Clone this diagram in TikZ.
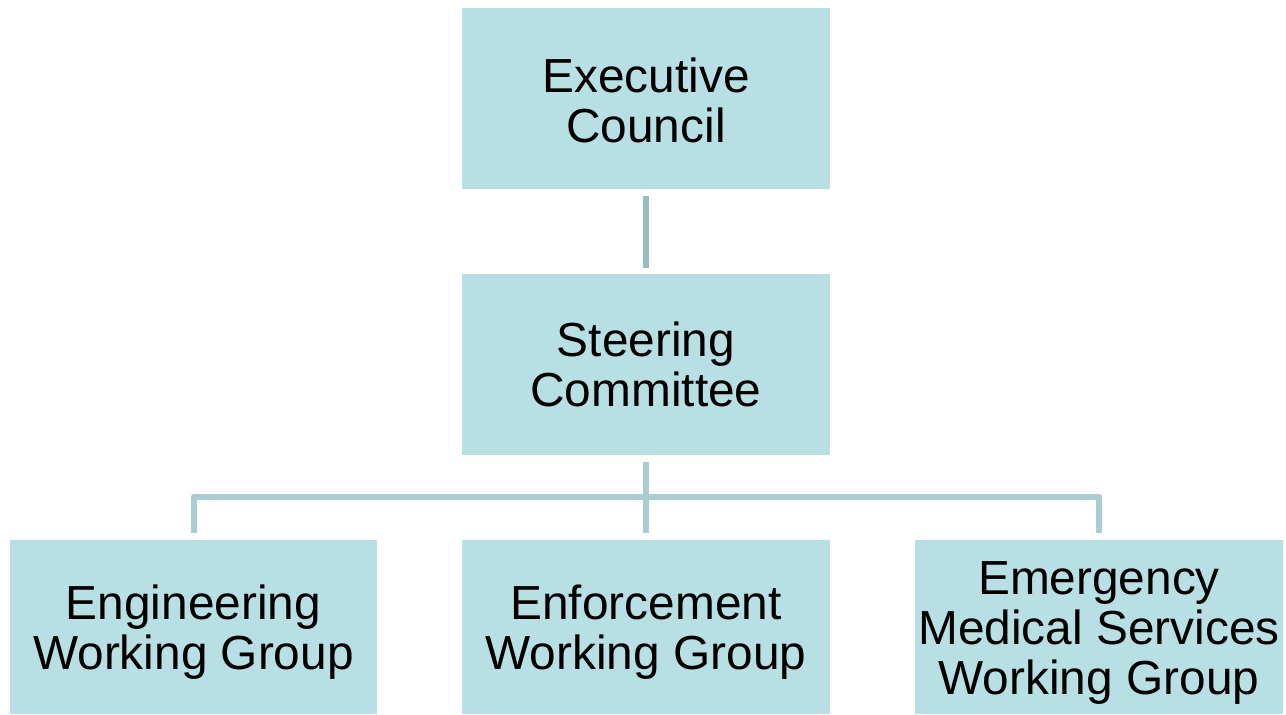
\documentclass[tikz,border=0pt]{standalone}
\usepackage{fontspec}
\setmainfont{Liberation Sans}
\definecolor{boxfill}{HTML}{B8DFE3}
\definecolor{lineA}{HTML}{99BCC0}
\definecolor{lineB}{HTML}{A9CDD1}
\begin{document}
\begin{tikzpicture}[x=1pt,y=-1pt,
  orgbox/.style={fill=boxfill,draw=none,inner sep=0pt,align=center,
    font=\fontsize{47.8}{50}\selectfont},
  boxtext/.style={inner sep=0pt,align=center,font=\fontsize{47.8}{50}\selectfont},
  linka/.style={draw=lineA,line width=6pt},
  linkb/.style={draw=lineB,line width=6pt,line join=round}]
\useasboundingbox (0,0) rectangle (1286,715);
\node[orgbox,minimum width=368pt,minimum height=181pt] (exec) at (646,98.5) {};
\node[boxtext] (execT) at ([yshift=-1.5pt]exec.center) {Executive\\Council};
\node[orgbox,minimum width=368pt,minimum height=181pt] (steer) at (646,364.5) {Steering\\Committee};
\node[orgbox,minimum width=367pt,minimum height=174pt] (eng) at (193.5,627) {};
\node[boxtext] (engT) at ([yshift=-5.5pt]eng.center) {Engineering\\Working Group};
\node[orgbox,minimum width=368pt,minimum height=174pt] (enf) at (646,627) {};
\node[boxtext] (enfT) at ([yshift=-5.5pt]enf.center) {Enforcement\\Working Group};
\node[orgbox,minimum width=368pt,minimum height=174pt] (ems) at (1099,627) {};
\node[boxtext] (emsT) at ([yshift=-6pt]ems.center) {Emergency\\Medical Services\\Working Group};
\draw[linka] ([yshift=-7pt]exec.south) -- ([yshift=6pt]steer.north);
\coordinate (bus) at (646,497);
\draw[linkb] ([yshift=-7pt]steer.south) -- ([yshift=7pt]enf.north);
\draw[linkb] ([yshift=7pt]eng.north) -- (eng.north |- bus) -- (ems.north |- bus) -- ([yshift=7pt]ems.north);
\end{tikzpicture}
\end{document}
